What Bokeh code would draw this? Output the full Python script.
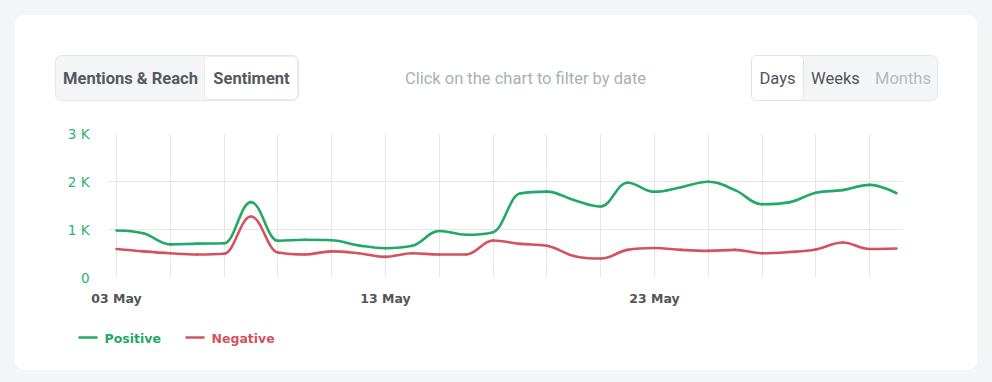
import pandas as pd
from bokeh.plotting import figure
from bokeh.layouts import column
from bokeh.models import Range1d, FixedTicker, DatetimeTickFormatter, ColumnDataSource
from bokeh.core.properties import value
from bokeh.embed import file_html
from bokeh.resources import INLINE

# ---------------- data ----------------
dates = pd.date_range("2024-05-03", periods=30, freq="D")
positive = [980, 920, 690, 705, 712, 1570, 765, 785, 775, 670, 610, 660, 970, 890, 945,
            1750, 1790, 1615, 1480, 1975, 1785, 1880, 1995, 1820, 1525, 1565, 1765, 1820, 1930, 1755]
negative = [595, 545, 505, 480, 495, 1270, 520, 480, 545, 505, 430, 505, 480, 480, 770,
            700, 660, 450, 395, 575, 615, 575, 555, 575, 505, 530, 585, 730, 595, 605]
y_ticks = [0, 1000, 2000, 3000]
y_tick_labels = ["0", "1 K", "2 K", "3 K"]
x_tick_dates = ["2024-05-03", "2024-05-13", "2024-05-23"]
series_names = ["Positive", "Negative"]
header_left = ["Mentions & Reach", "Sentiment"]
header_right = ["Days", "Weeks", "Months"]
hint_text = "Click on the chart to filter by date"

GREEN = "#22a867"
RED = "#d4525f"
DAY = 86400000.0
CARD_W = 962

x_ms = list(dates.asi8 / 1e6)


def spline(xs, ys):
    n = len(xs)
    lx, ly, rx, ry = list(xs), list(ys), list(xs), list(ys)
    s, d = 1.5, 2.5
    for i in range(1, n - 1):
        px, py = xs[i], ys[i]
        ax, ay = xs[i - 1], ys[i - 1]
        bx, by = xs[i + 1], ys[i + 1]
        lcx, lcy = (s * px + ax) / d, (s * py + ay) / d
        rcx, rcy = (s * px + bx) / d, (s * py + by) / d
        if rcx != lcx:
            corr = ((rcy - lcy) * (rcx - px)) / (rcx - lcx) + py - rcy
            lcy += corr
            rcy += corr
        if lcy > ay and lcy > py:
            lcy = max(ay, py); rcy = 2 * py - lcy
        elif lcy < ay and lcy < py:
            lcy = min(ay, py); rcy = 2 * py - lcy
        if rcy > by and rcy > py:
            rcy = max(by, py); lcy = 2 * py - rcy
        elif rcy < by and rcy < py:
            rcy = min(by, py); lcy = 2 * py - rcy
        lx[i], ly[i], rx[i], ry[i] = lcx, lcy, rcx, rcy
    return ColumnDataSource(dict(x0=xs[:-1], y0=ys[:-1], x1=xs[1:], y1=ys[1:],
                                 cx0=rx[:-1], cy0=ry[:-1], cx1=lx[1:], cy1=ly[1:]))


def blank_fig(h, top, bottom):
    f = figure(width=CARD_W, height=h, output_backend="svg", toolbar_location=None, tools="",
               x_range=Range1d(15, 15 + CARD_W), y_range=Range1d(bottom, top),
               x_axis_location=None, y_axis_location=None, min_border=0)
    f.frame_align = False
    f.outline_line_color = None
    f.xgrid.visible = False
    f.ygrid.visible = False
    f.background_fill_color = "white"
    f.border_fill_color = "white"
    return f


# ---------------- header ----------------
hdr = blank_fig(100, 15, 115)
hdr.quad(left=[55, 751], right=[298, 937], top=[55, 55], bottom=[100, 100],
         fill_color="#f4f5f7", line_color="#e3e5e9", line_width=1, border_radius=6)
hdr.quad(left=[204, 751], right=[297, 803], top=[56, 55], bottom=[99, 100],
         fill_color="#ffffff", line_color=["#ececee", "#e1e3e7"], line_width=1, border_radius=5)
hdr.text(x=[130, 251], y=[78, 78], text=header_left, text_color="#555a60",
         text_font=value("Roboto"), text_font_style="bold", text_font_size="16.5px",
         text_align="center", text_baseline="middle")
hdr.text(x=[525], y=[78], text=[hint_text], text_color="#a9afb7",
         text_font=value("Roboto"), text_font_size="16.5px",
         text_align="center", text_baseline="middle")
hdr.text(x=[777, 835, 902.5], y=[78, 78, 78], text=header_right,
         text_color=["#50555b", "#50555b", "#b5b9bf"],
         text_font=value("Roboto"), text_font_size="16.5px",
         text_align="center", text_baseline="middle")

# ---------------- chart ----------------
p = figure(width=CARD_W, height=195, x_axis_type="datetime", output_backend="svg",
           toolbar_location=None, tools="",
           x_range=Range1d(x_ms[0] - 0.297 * DAY, x_ms[-1] + 0.26 * DAY),
           y_range=Range1d(0, 3000),
           min_border_left=93, min_border_right=74, min_border_top=18, min_border_bottom=33)
p.frame_align = False
p.outline_line_color = None
p.background_fill_color = "white"
p.border_fill_color = "white"

p.yaxis.ticker = FixedTicker(ticks=y_ticks)
p.yaxis.major_label_overrides = {t: l for t, l in zip(y_ticks, y_tick_labels)}
p.xaxis.ticker = FixedTicker(ticks=[pd.Timestamp(d).value / 1e6 for d in x_tick_dates])
p.xaxis.formatter = DatetimeTickFormatter(days="%d %b", months="%d %b")
for ax in (p.xaxis, p.yaxis):
    ax.axis_line_color = None
    ax.major_tick_line_color = None
    ax.minor_tick_line_color = None
    ax.major_tick_out = 0
    ax.major_tick_in = 0
p.yaxis.major_label_text_color = "#2cb172"
p.yaxis.major_label_text_font = "DejaVu Sans"
p.yaxis.major_label_text_font_size = "13.5px"
p.yaxis.major_label_standoff = 19
p.xaxis.major_label_text_color = "#555555"
p.xaxis.major_label_text_font = "DejaVu Sans"
p.xaxis.major_label_text_font_style = "bold"
p.xaxis.major_label_text_font_size = "12.5px"
p.xaxis.major_label_standoff = 13

p.xgrid.ticker = FixedTicker(ticks=x_ms[::2])
p.xgrid.grid_line_color = "#e6e6e6"
p.ygrid.grid_line_color = "#e6e6e6"

for vals, col in ((negative, RED), (positive, GREEN)):
    src = spline(x_ms, [float(v) for v in vals])
    p.bezier("x0", "y0", "x1", "y1", "cx0", "cy0", "cx1", "cy1", source=src,
             line_color=col, line_width=2.6, line_cap="round")

# ---------------- legend ----------------
leg = blank_fig(60, 310, 370)
leg.segment(x0=[78, 185], y0=[337, 337], x1=[97, 204], y1=[337, 337],
            line_color=[GREEN, RED], line_width=2.6)
leg.text(x=[104, 211], y=[337.5, 337.5], text=series_names, text_color=[GREEN, RED],
         text_font=value("DejaVu Sans"), text_font_style="bold", text_font_size="12.5px",
         text_align="left", text_baseline="middle")

layout = column(hdr, p, leg, spacing=0,
                styles={"background": "white", "border-radius": "10px", "overflow": "hidden"})

html = file_html(layout, INLINE)
html = html.replace("</head>",
                    "<style>html,body{background:#f4f5f7;}body{margin:15px 0 0 15px;}</style></head>")
open("out.html", "w").write(html)
